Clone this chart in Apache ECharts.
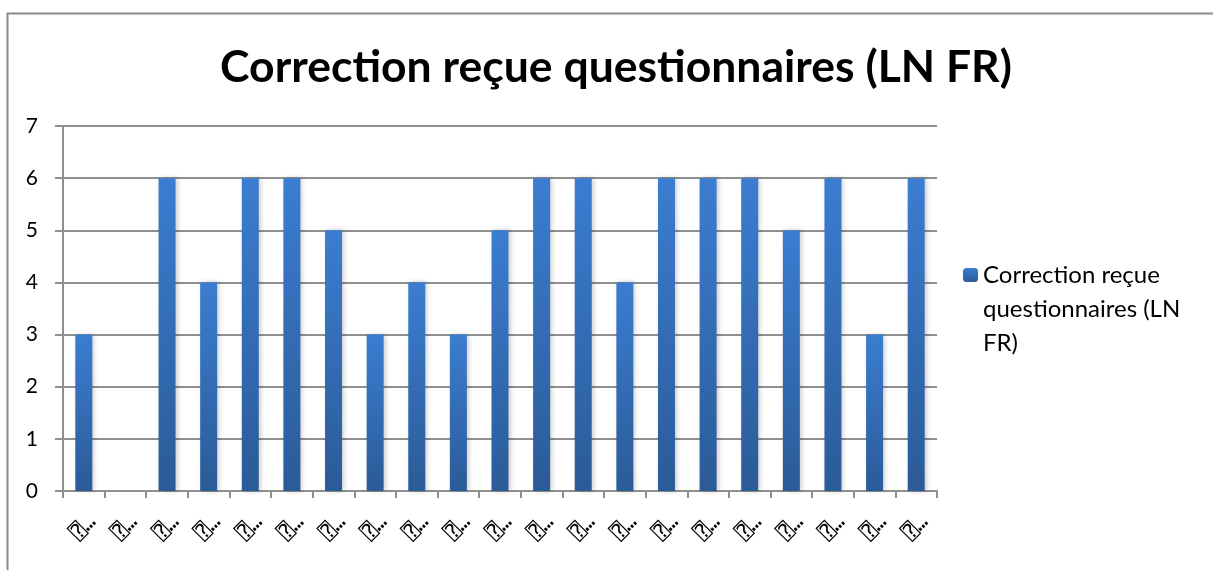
<!DOCTYPE html>
<html>
<head>
<meta charset="utf-8">
<script src="https://cdn.jsdelivr.net/npm/echarts@6/dist/echarts.min.js"></script>
<style>
  html, body { margin: 0; padding: 0; background: #fff; }
  #main { width: 1213px; height: 570px; }
</style>
</head>
<body>
<div id="main"></div>
<script>
// category names did not render in the source chart, they show as "?…" boxes
const categories = [
  "⍰…", "⍰…", "⍰…", "⍰…", "⍰…", "⍰…", "⍰…",
  "⍰…", "⍰…", "⍰…", "⍰…", "⍰…", "⍰…", "⍰…",
  "⍰…", "⍰…", "⍰…", "⍰…", "⍰…", "⍰…", "⍰…"
];
const values = [3, 0, 6, 4, 6, 6, 5, 3, 4, 3, 5, 6, 6, 4, 6, 6, 6, 5, 6, 3, 6];
const seriesName = "Correction reçue questionnaires (LN FR)";
const yMin = 0, yMax = 7, yStep = 1;

const myChart = echarts.init(document.getElementById("main"));
const axisGray = "#8f8f8f";

const option = {
  animation: false,
  textStyle: { fontFamily: "Lato" },
  title: {
    text: seriesName,
    top: 40,
    left: 611,
    textAlign: "center",
    textStyle: { fontFamily: "Lato", fontWeight: "bold", fontSize: 44.5, color: "#000" },
  },
  legend: {
    left: 958,
    top: 185,
    orient: "vertical",
    itemWidth: 15,
    itemHeight: 14,
    formatter: function () {
      // two empty lines on top so the marker sits next to the first line
      return "\n\nCorrection reçue\nquestionnaires (LN\nFR)";
    },
    textStyle: {
      fontFamily: "Lato",
      fontSize: 24,
      lineHeight: 34,
      color: "#000",
    },
  },
  graphic: [
    {
      type: "rect",
      shape: { x: 7.5, y: 13.5, width: 1400, height: 800 },
      style: { fill: "none", stroke: "#8a8a8a", lineWidth: 2 },
      silent: true,
    },
  ],
  grid: { left: 63, right: 276, top: 126, bottom: 79 },
  xAxis: {
    type: "category",
    data: categories,
    axisLine: { lineStyle: { color: axisGray, width: 2 } },
    axisTick: { show: true, length: 7, lineStyle: { color: axisGray, width: 2 } },
    axisLabel: {
      rotate: 45,
      interval: 0,
      margin: 37,
      align: "center",
      verticalAlign: "middle",
      fontFamily: "DejaVu Sans Mono",
      fontSize: 21,
      color: "#000",
    },
  },
  yAxis: {
    type: "value",
    min: yMin,
    max: yMax,
    interval: yStep,
    axisLine: { show: true, lineStyle: { color: axisGray, width: 2 } },
    axisTick: { show: true, length: 8, lineStyle: { color: axisGray, width: 2 } },
    axisLabel: { fontSize: 21, color: "#000", margin: 25 },
    splitLine: { lineStyle: { color: axisGray, width: 2 } },
  },
  series: [
    {
      name: seriesName,
      type: "bar",
      data: values,
      barWidth: 17,
      itemStyle: {
        color: new echarts.graphic.LinearGradient(0, 0, 0, 1, [
          { offset: 0, color: "#3b7dd1" },
          { offset: 1, color: "#2b5b97" },
        ]),
        shadowColor: "rgba(0,0,0,0.22)",
        shadowBlur: 5,
        shadowOffsetX: 2,
      },
    },
  ],
};
option && myChart.setOption(option);
</script>
</body>
</html>
